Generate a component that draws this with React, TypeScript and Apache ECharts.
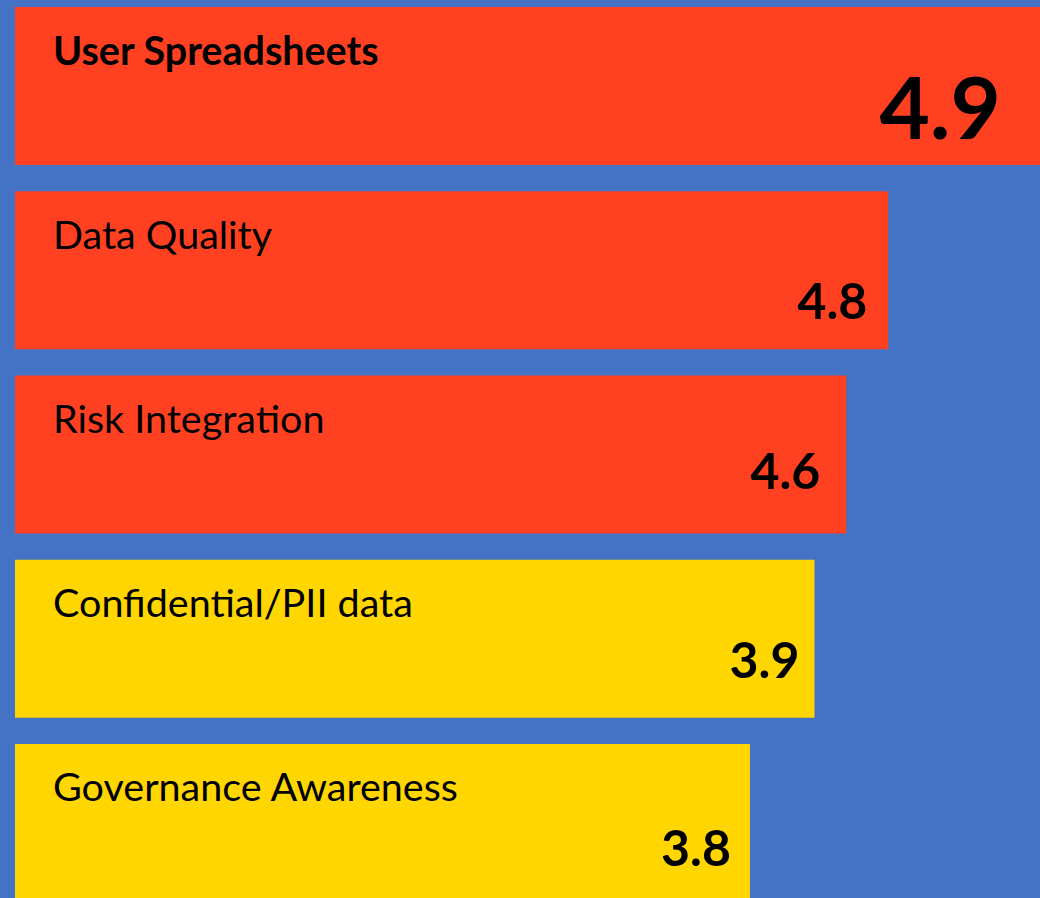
import React, { useEffect, useRef } from "react";
import * as echarts from "echarts";

const categories = [
  "User Spreadsheets",
  "Data Quality",
  "Risk Integration",
  "Confidential/PII data",
  "Governance Awareness",
];
// score shown on each bar
const scores = [4.9, 4.8, 4.6, 3.9, 3.8];
// drawn bar length, percent of the longest bar
const barLength = [100, 85.2, 81.1, 78.0, 71.7];

const RED = "#FF4122";
const YELLOW = "#FFD600";
const BLUE = "#4472C4";
const FONT = "Lato, 'Open Sans', sans-serif";

// placement of the score labels within each bar (style, not data)
const scoreLabelOffsets = [
  [-39, -16],
  [-21, -24],
  [-26, -39],
  [-15, -34],
  [-19, -30],
];

export default function App() {
  const ref = useRef<HTMLDivElement>(null);
  useEffect(() => {
    document.body.style.margin = "0";
    document.body.style.background = BLUE;
    const chart = echarts.init(ref.current!, undefined, { renderer: "svg" });
    const colorOf = (i: number) => (scores[i] >= 4.5 ? RED : YELLOW);
    chart.setOption({
      animation: false,
      backgroundColor: BLUE,
      grid: { left: 15, right: 0, top: 0, bottom: 0, containLabel: false },
      xAxis: { type: "value", min: 0, max: 100, show: false },
      yAxis: { type: "category", data: categories, inverse: true, show: false },
      series: [
        {
          type: "bar",
          barWidth: 158,
          data: barLength.map((v, i) => ({
            value: v,
            itemStyle: { color: colorOf(i) },
            label: i === 0 ? { fontWeight: "bold" } : undefined,
          })),
          label: {
            show: true,
            position: "insideTopLeft",
            distance: 0,
            offset: [38, 22],
            formatter: "{b}",
            fontFamily: FONT,
            fontSize: 39.5,
            color: "#000",
          },
          z: 2,
        },
        {
          type: "bar",
          barWidth: 158,
          barGap: "-100%",
          data: barLength.map((v, i) => ({
            value: v,
            label: {
              offset: scoreLabelOffsets[i],
              ...(i === 0 ? { fontSize: 87 } : {}),
            },
          })),
          itemStyle: { color: "rgba(0,0,0,0)" },
          label: {
            show: true,
            position: "insideBottomRight",
            distance: 0,
            formatter: (p: any) => scores[p.dataIndex].toFixed(1),
            fontFamily: FONT,
            fontWeight: "bold",
            fontSize: 50,
            color: "#000",
          },
          z: 3,
        },
      ],
    });
    return () => chart.dispose();
  }, []);
  return (
    <div style={{ width: 1040, height: 898, overflow: "hidden", position: "relative", background: BLUE }}>
      <div ref={ref} style={{ position: "absolute", left: 0, top: -6, width: 1040, height: 921 }} />
    </div>
  );
}
